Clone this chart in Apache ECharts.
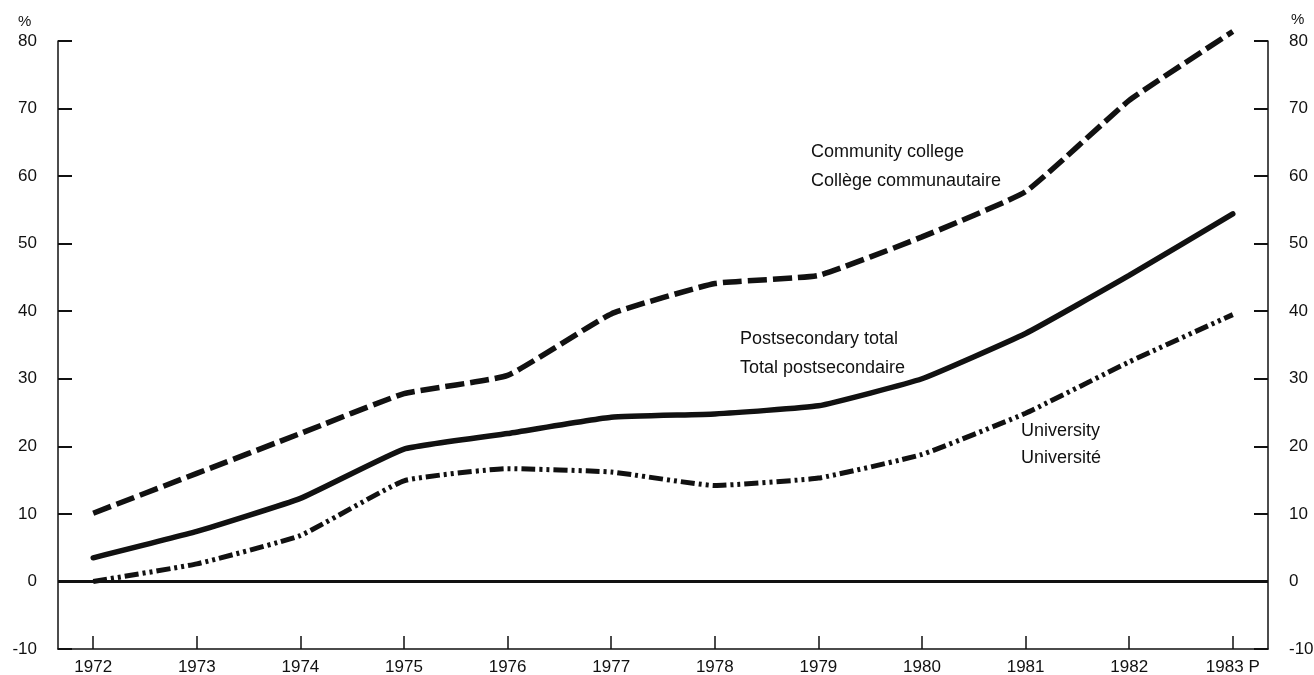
<!DOCTYPE html>
<html>
<head>
<meta charset="utf-8">
<script src="https://cdn.jsdelivr.net/npm/echarts@6/dist/echarts.min.js"></script>
<style>html,body{margin:0;padding:0;background:#fff;overflow:hidden;width:1314px;height:675px;}#c{width:1314px;height:675px;}</style>
</head>
<body>
<div id="c"></div>
<script>
var years = [1972, 1973, 1974, 1975, 1976, 1977, 1978, 1979, 1980, 1981, 1982, 1983];
var yearLabels = ['1972', '1973', '1974', '1975', '1976', '1977', '1978', '1979', '1980', '1981', '1982', '1983 P'];
var community = [10.1, 16.0, 21.9, 27.8, 30.5, 39.6, 44.1, 45.3, 51.0, 57.7, 71.2, 81.4];
var total = [3.5, 7.4, 12.3, 19.6, 21.9, 24.3, 24.8, 26.0, 30.0, 36.7, 45.3, 54.4];
var university = [0.0, 2.6, 6.8, 14.9, 16.7, 16.2, 14.2, 15.3, 18.8, 24.9, 32.5, 39.5];

function pairs(arr) { return years.map(function (y, i) { return [y, arr[i]]; }); }

var font = 'Liberation Sans, Arial, Helvetica, sans-serif';
var ink = '#111';
var chart = echarts.init(document.getElementById('c'));
var yAxisBase = {
  type: 'value', min: -10, max: 80, interval: 10,
  axisLine: { show: true, lineStyle: { color: ink, width: 1.5 } },
  axisTick: { show: true, inside: true, length: 14, lineStyle: { color: ink, width: 2 } },
  axisLabel: { color: ink, fontSize: 17, fontFamily: font, margin: 21 },
  splitLine: { show: false }
};
var txt = '18px ' + font;
chart.setOption({
  animation: false,
  backgroundColor: '#fff',
  grid: { left: 58, right: 46, top: 41, bottom: 26, containLabel: false, outerBoundsMode: 'none' },
  xAxis: {
    type: 'value', min: 1971.66, max: 1983.34,
    axisLine: { show: true, onZero: false, lineStyle: { color: ink, width: 1.5 } },
    axisTick: { show: true, inside: true, length: 13, customValues: years, lineStyle: { color: ink, width: 1.5 } },
    axisLabel: {
      color: ink, fontSize: 17, fontFamily: font, margin: 10, customValues: years,
      formatter: function (v) { var i = years.indexOf(Math.round(v)); return i >= 0 ? yearLabels[i] : ''; }
    },
    splitLine: { show: false }
  },
  yAxis: [
    Object.assign({}, yAxisBase, { position: 'left' }),
    Object.assign({}, yAxisBase, { position: 'right' })
  ],
  series: [
    {
      type: 'line', name: 'Community college', data: pairs(community), smooth: 0.12, clip: false,
      showSymbol: false, lineStyle: { color: ink, width: 5.5, type: [19, 6], cap: 'butt' }, z: 3,
      markLine: {
        silent: true, symbol: 'none', label: { show: false },
        lineStyle: { color: ink, width: 3, type: 'solid' },
        data: [{ yAxis: 0 }]
      }
    },
    {
      type: 'line', name: 'Postsecondary total', data: pairs(total), smooth: 0.12, clip: false,
      showSymbol: false, lineStyle: { color: ink, width: 5.5, type: 'solid', cap: 'round' }, z: 3
    },
    {
      type: 'line', name: 'University', data: pairs(university), smooth: 0.12, clip: false,
      showSymbol: false, lineStyle: { color: ink, width: 5, type: [14, 4, 3, 4, 3, 4], cap: 'butt' }, z: 3
    }
  ],
  graphic: [
    { type: 'text', left: 18, top: 14, style: { text: '%', fill: ink, font: '15px ' + font } },
    { type: 'text', left: 1291, top: 12, style: { text: '%', fill: ink, font: '15px ' + font } },
    { type: 'text', left: 811, top: 143, style: { text: 'Community college', fill: ink, font: txt } },
    { type: 'text', left: 811, top: 172, style: { text: 'Collège communautaire', fill: ink, font: txt } },
    { type: 'text', left: 740, top: 330, style: { text: 'Postsecondary total', fill: ink, font: txt } },
    { type: 'text', left: 740, top: 359, style: { text: 'Total postsecondaire', fill: ink, font: txt } },
    { type: 'text', left: 1021, top: 422, style: { text: 'University', fill: ink, font: txt } },
    { type: 'text', left: 1021, top: 449, style: { text: 'Université', fill: ink, font: txt } }
  ]
});
</script>
</body>
</html>
